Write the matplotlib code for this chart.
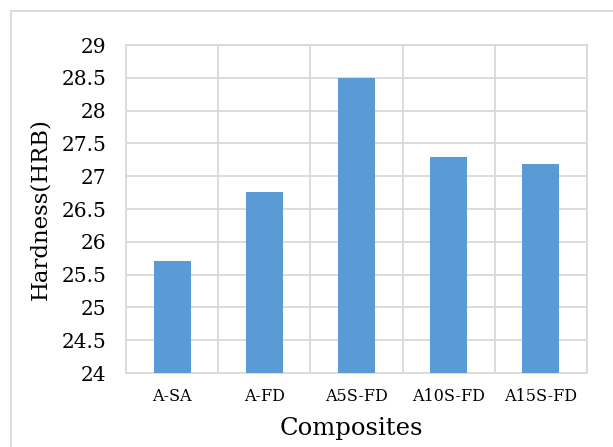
import numpy as np
import matplotlib
matplotlib.use("Agg")
import matplotlib.pyplot as plt
from matplotlib.patches import Rectangle

composites = ["A-SA", "A-FD", "A5S-FD", "A10S-FD", "A15S-FD"]
hardness = [25.71, 26.76, 28.50, 27.29, 27.18]
y_ticks = [24, 24.5, 25, 25.5, 26, 26.5, 27, 27.5, 28, 28.5, 29]

bar_color = "#5B9BD5"
grid_color = "#d9d9d9"

plt.rcParams["font.family"] = ["DejaVu Serif"]

fig = plt.figure(figsize=(6.13, 4.47), dpi=100)
ax = fig.add_axes([0.2055, 0.1655, 0.752, 0.7338])

x = np.arange(len(composites))
ax.bar(x, hardness, width=0.4, color=bar_color, zorder=3)

ax.set_xlim(-0.5, len(composites) - 0.5)
ax.set_ylim(24, 29)
ax.set_yticks(y_ticks)
ax.set_yticklabels([f"{v:g}" for v in y_ticks], fontsize=14.5)
ax.set_xticks(x)
ax.set_xticklabels(composites, fontsize=11.5)
ax.set_xticks(np.arange(-0.5, len(composites)), minor=True)

ax.tick_params(axis="y", length=0, pad=14)
ax.tick_params(axis="x", which="both", length=0, pad=11)
ax.grid(axis="y", color=grid_color, linewidth=1.3, zorder=0)
ax.grid(axis="x", which="minor", color=grid_color, linewidth=1.3, zorder=0)
ax.grid(axis="x", which="major", visible=False)

for s in ax.spines.values():
    s.set_color(grid_color)
    s.set_linewidth(1.3)

ax.set_ylabel("Hardness(HRB)", fontsize=16.5)
ax.set_xlabel("Composites", fontsize=17.5, labelpad=6)
ax.yaxis.set_label_coords(-0.163, 0.5)
ax.xaxis.set_label_coords(0.49, -0.135)
ax.xaxis.label.set_va("top")

# chart area frame (runs off the right and bottom edges)
frame = Rectangle((11 / 613, -0.1), 1.2, 1 - 11 / 447 + 0.1,
                  transform=fig.transFigure, fill=False,
                  edgecolor=grid_color, linewidth=1.3)
fig.patches.append(frame)

fig.savefig("out.png", dpi=100)
